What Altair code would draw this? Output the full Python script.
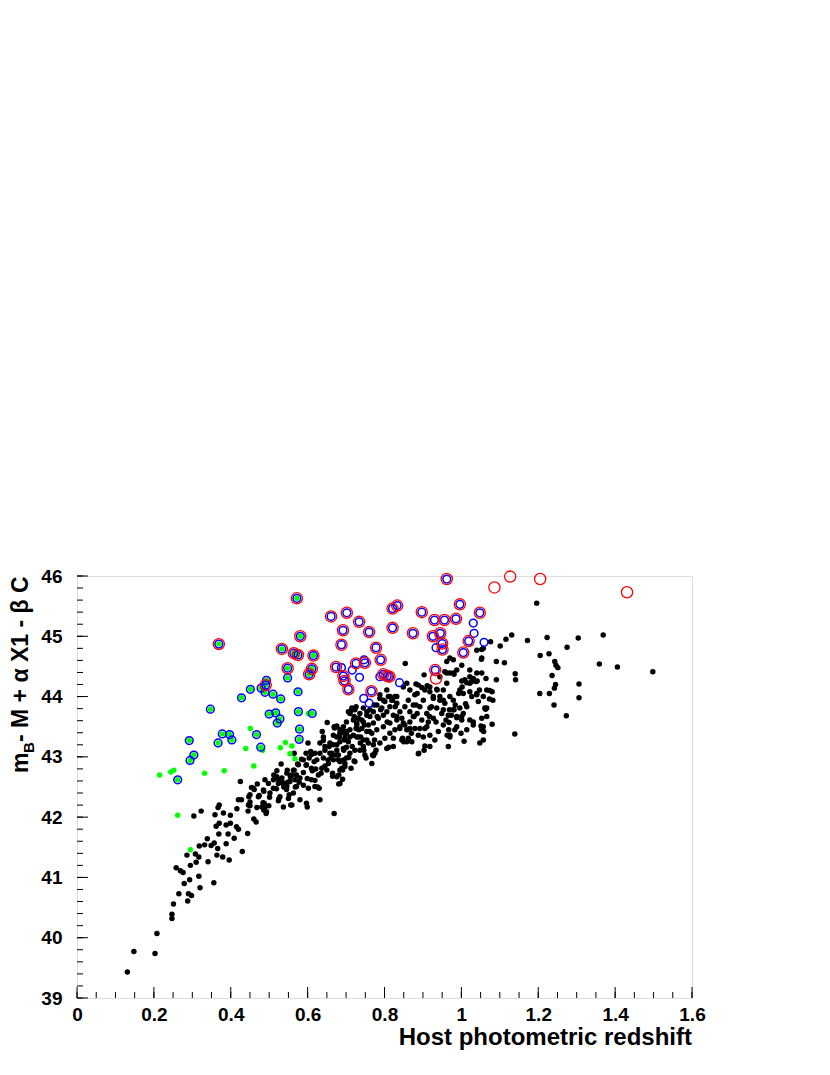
import altair as alt
import pandas as pd
import numpy as np

# ---------------- data ----------------
black = [
(0.131,39.43),(0.148,39.77),(0.203,39.74),(0.208,40.07),(0.247,40.32),(0.247,40.39),(0.251,40.56),
(0.265,40.73),(0.288,40.61),(0.298,40.70),(0.290,40.73),(0.279,40.90),(0.293,40.96),(0.320,40.83),
(0.317,41.02),(0.356,40.91),(0.258,41.16),(0.269,41.11),(0.276,41.08),(0.295,41.20),(0.310,41.25),
(0.317,41.34),(0.308,41.39),(0.286,41.37),(0.341,41.26),(0.318,41.52),(0.332,41.54),(0.349,41.53),
(0.357,41.57),(0.366,41.48),(0.339,41.64),(0.364,41.37),(0.379,41.34),(0.396,41.29),(0.388,41.56),
(0.409,41.65),(0.430,41.43),(0.369,41.72),(0.393,41.72),(0.362,41.85),(0.370,41.90),(0.388,41.87),
(0.399,41.90),(0.415,41.84),(0.420,41.80),(0.444,41.73),(0.304,42.02),(0.323,42.10),(0.359,42.04),
(0.381,42.07),(0.399,42.03),(0.367,42.16),(0.370,42.20),(0.416,42.14),(0.420,42.29),(0.445,42.10),
(0.450,42.19),(0.460,41.97),(0.466,41.92),(0.468,42.16),(0.486,42.12),(0.492,42.06),(0.484,42.24),
(0.499,42.19),(0.487,42.23),(0.524,42.27),
(0.425,42.59),(0.454,42.49),(0.469,42.55),(0.461,42.46),(0.447,42.34),(0.450,42.25),(0.474,42.36),
(0.486,42.43),(0.498,42.56),(0.501,42.33),(0.481,42.17),(0.493,42.09),(0.512,42.70),(0.520,42.77),
(0.531,42.88),(0.525,42.62),(0.519,42.47),(0.525,42.30),(0.533,42.59),(0.538,42.50),(0.548,42.58),
(0.545,42.46),(0.552,42.37),(0.556,42.20),(0.547,42.78),(0.555,42.67),(0.565,42.78),(0.571,42.70),
(0.578,42.58),(0.568,42.50),(0.565,43.06),(0.574,42.88),(0.584,42.96),(0.589,42.74),(0.596,42.86),
(0.599,42.64),(0.599,42.17),(0.596,43.06),(0.601,43.23),(0.610,43.04),(0.617,42.92),(0.612,42.77),
(0.619,42.61),(0.626,42.50),(0.630,42.48),(0.621,42.80),(0.635,42.73),(0.651,43.57),(0.638,43.42),
(0.641,43.27),(0.645,43.17),(0.653,42.95),(0.663,43.04),(0.665,42.68),(0.645,42.85),(0.656,43.17),
(0.669,42.06),(0.661,42.98),(0.674,43.03),(0.680,42.95),(0.689,42.81),(0.691,42.63),(0.697,42.89),
(0.694,43.11),(0.701,43.16),(0.713,42.81),(0.707,42.99),(0.721,42.93),(0.716,43.17),(0.683,43.33),
(0.695,43.39),(0.706,43.25),(0.726,43.47),(0.728,43.33),(0.737,43.23),(0.746,43.11),(0.752,42.98),
(0.767,42.89),(0.778,43.11),(0.774,43.28),
(0.854,44.55),(0.903,44.36),(0.670,43.48),(0.658,43.06),(0.665,42.73),(0.681,42.70),(0.681,42.55),
(0.696,43.28),(0.710,43.06),(0.693,42.95),(0.717,43.78),(0.721,43.67),(0.728,43.56),(0.733,43.45),
(0.738,43.33),(0.745,43.17),(0.769,43.03),(0.754,43.28),(0.761,43.42),(0.748,43.53),(0.773,43.86),
(0.781,43.67),(0.790,43.78),(0.797,43.50),(0.807,43.58),(0.814,43.39),(0.823,43.17),(0.811,43.16),
(0.819,43.94),(0.828,43.83),(0.832,43.67),(0.840,43.50),(0.847,43.31),(0.849,43.56),(0.858,43.25),
(0.866,43.47),(0.875,43.67),(0.882,43.86),(0.889,43.06),(0.905,43.18),(0.901,43.33),(0.892,43.47),
(0.910,43.50),(0.917,43.67),(0.922,43.83),(0.927,44.00),(0.937,44.11),(0.944,43.94),(0.953,43.78),
(0.960,43.61),(0.967,43.45),(0.970,43.33),(0.974,43.69),(0.984,43.86),(0.993,44.05),(1.002,44.16),
(1.009,44.28),(1.022,44.22),(1.038,44.25),(1.047,44.11),(1.057,44.00),(1.066,43.81),(1.007,43.26),
(1.048,43.23),(1.057,43.50),(1.031,43.58),(1.005,43.72),(0.988,43.50),(0.999,43.39),(0.866,44.11),
(0.879,44.03),(0.849,44.16),(0.832,44.00),(0.888,44.19),(0.905,44.11),(0.918,44.16),(0.944,44.33),
(0.957,44.41),(0.970,44.39),(0.988,44.44),(1.001,44.52),(1.022,44.33),(1.040,44.39),(1.053,44.64),
(1.057,44.80),(0.962,44.58),(0.979,44.61),(1.040,44.77),(0.806,44.11),(0.814,44.00),(0.797,43.94),
(0.788,44.03),(0.762,43.78),(0.754,43.69),(0.741,43.61),(0.726,43.83),(0.710,43.75),(0.701,43.58),
(0.684,43.45),(0.676,43.33),(0.701,43.39),
(1.076,44.91),(1.101,44.84),(1.116,44.95),(1.131,45.02),(1.172,44.93),(1.223,44.98),(1.304,44.97),
(1.275,44.82),(1.205,44.68),(1.228,44.71),(1.243,44.58),(1.246,44.52),(1.251,44.48),(1.359,44.54),
(1.091,44.58),(1.112,44.56),(1.052,44.62),(1.140,44.38),(1.141,44.28),(1.236,44.35),(1.204,44.05),
(1.229,44.05),(1.245,44.20),(1.242,44.14),(1.241,43.86),(1.273,43.68),(1.306,44.21),(1.306,43.98),
(1.139,43.38),(1.091,44.28),(1.080,44.08),(1.082,43.94),(1.063,43.79),(1.074,44.10),(1.051,43.51),
(1.058,43.42),(1.080,43.54),(1.053,44.78),(1.053,44.39),(1.064,44.30),(1.041,44.26),(1.027,44.25),
(1.014,44.23),(1.027,44.00),(1.040,44.03),(1.011,43.88),(1.001,43.67),(0.988,43.65),(0.968,43.57),
(0.963,43.36),(0.979,43.78),(0.969,43.78),(1.022,44.44),(0.970,44.64),(0.979,44.39),(0.962,44.22),
(0.996,44.11),(0.953,44.11),(0.953,43.94),(0.979,43.94),(1.073,43.96),
(1.369,45.02),(1.406,44.49),(1.498,44.41),(1.196,45.55),(0.888,43.05),(0.850,43.25),(0.871,43.25),
(0.771,43.02),(0.723,42.92),(0.691,42.78),(0.684,42.56),(0.669,43.50),
# dense core, second reading
(0.882,44.21),(0.897,44.15),(0.911,44.18),(0.918,44.08),(0.936,44.12),(0.962,44.39),(0.981,44.37),
(1.001,44.26),(1.031,44.30),(0.858,44.22),(0.885,44.05),(0.901,43.94),(0.927,43.97),(0.944,44.00),
(0.957,43.89),(0.970,44.00),(1.005,44.05),(1.022,44.08),(1.040,44.05),(1.066,44.11),(1.044,43.92),
(1.061,43.81),(1.053,43.64),(1.014,43.83),(0.996,43.81),(0.981,43.78),(0.988,43.67),(0.966,43.69),
(0.949,43.72),(0.936,43.81),(0.918,43.81),(0.910,43.72),(0.927,43.64),(0.934,43.58),(0.914,43.58),
(0.905,43.47),(0.897,43.61),(0.885,43.72),(0.892,43.83),(0.875,43.86),(0.866,43.75),(0.877,43.67),
(0.866,43.58),(0.879,43.47),(0.888,43.36),(0.870,43.39),(0.858,43.45),(0.853,43.53),(0.845,43.64),
(0.840,43.75),(0.853,43.83),(0.832,43.89),(0.821,43.94),(0.810,44.00),(0.827,44.00),(0.801,43.92),
(0.814,43.83),(0.806,43.75),(0.823,43.69),(0.832,43.61),(0.814,43.56),(0.840,43.47),(0.827,43.45),
(0.823,43.31),(0.845,43.28),(0.862,43.31),(0.788,43.97),(0.780,43.86),(0.793,43.81),(0.797,43.69),
(0.784,43.64),(0.771,43.75),(0.762,43.67),(0.754,43.75),(0.745,43.81),(0.736,43.72),(0.732,43.64),
(0.745,43.58),(0.758,43.53),(0.771,43.56),(0.780,43.45),(0.767,43.39),(0.754,43.42),(0.741,43.47),
(0.728,43.53),(0.719,43.61),(0.710,43.72),(0.723,43.78),(0.715,43.81),(0.710,43.45),(0.719,43.36),
(0.732,43.33),(0.745,43.28),(0.758,43.23),(0.771,43.20),(0.788,43.23),(0.801,43.31),(0.806,43.14),
(0.775,43.06),(0.693,43.42),(0.697,43.31),(0.684,43.25),(0.676,43.11),(0.667,43.20),(0.723,43.11),
(0.736,43.11),(0.749,43.03),(0.862,43.94),(0.953,43.53),(0.970,43.36),(0.983,43.45),(1.001,43.61),
(1.022,43.61),(1.031,43.53),(1.014,43.45),(1.053,43.45),(1.066,43.67),(0.940,43.42),(0.918,43.36),
(0.931,43.28),(0.918,43.17),(0.903,43.11),(0.966,43.17),(1.057,43.28),
(0.676,43.51),(0.693,43.50),(0.684,43.39),(0.667,43.36),(0.658,43.23),(0.676,43.20),(0.693,43.14),
(0.641,43.33),(0.632,43.23),(0.645,43.11),(0.663,43.06),(0.680,43.03),(0.632,43.06),(0.619,43.06),
(0.608,43.09),(0.624,42.95),(0.641,42.98),(0.654,42.89),(0.667,42.95),(0.684,42.92),(0.701,42.98),
(0.697,42.84),(0.684,42.78),(0.650,42.78),(0.637,42.81),(0.628,42.70),(0.610,42.81),(0.597,42.87),
(0.589,42.95),(0.576,42.87),(0.563,42.78),(0.558,42.70),(0.546,42.73),(0.533,42.65),(0.537,42.56),
(0.524,42.56),(0.511,42.48),(0.546,42.51),(0.554,42.59),(0.567,42.62),(0.580,42.65),(0.571,42.51),
(0.589,42.53),(0.602,42.48),(0.610,42.62),(0.619,42.51),(0.563,42.40),(0.550,42.31),(0.528,42.34),
(0.502,42.40),(0.485,42.45),(0.472,42.34),(0.459,42.48),(0.450,42.37),(0.489,42.62),(0.520,42.67),
(0.511,42.62),(0.597,42.23),(0.580,42.29),(0.559,42.20),(0.537,42.17),(0.489,42.17),(0.446,42.20),
(0.428,42.29),(0.632,42.29),(0.676,42.67),(0.701,43.42),(0.710,43.33),(0.706,43.75),(0.604,42.98),
]
black_z = [p[0] for p in black]
black_mu = [p[1] for p in black]

green = [
(0.572,45.63),(0.369,44.87),(0.581,45.00),(0.533,44.79),(0.564,44.72),(0.575,44.69),(0.615,44.68),
(0.548,44.47),(0.611,44.46),(0.604,44.37),(0.491,44.19),
(0.548,44.31),(0.493,44.27),(0.479,44.14),(0.489,44.07),(0.510,44.04),(0.451,44.12),(0.428,43.98),
(0.530,43.96),(0.575,44.08),(0.347,43.79),(0.500,43.71),(0.517,43.73),(0.528,43.63),(0.521,43.56),
(0.576,43.75),(0.612,43.72),(0.579,43.46),(0.578,43.29),(0.467,43.37),(0.478,43.16),(0.378,43.38),
(0.397,43.37),(0.403,43.28),(0.367,43.23),(0.292,43.27),(0.304,43.03),(0.294,42.94),(0.262,42.62),
(0.451,43.47),(0.439,43.14),(0.483,43.11),(0.542,43.24),(0.559,43.18),(0.529,43.15),(0.554,43.05),
(0.567,42.97),(0.460,42.85),(0.383,42.77),(0.332,42.73),(0.244,42.75),(0.252,42.78),(0.215,42.70),
(0.262,42.03),(0.295,41.46),(0.602,43.72),
]
green_z = [p[0] for p in green]
green_mu = [p[1] for p in green]

red_blue = [
(0.962,45.95),(0.996,45.53),(1.048,45.39),(1.019,44.92),(1.005,44.73),(0.986,45.29),(0.956,45.27),
(0.930,45.27),(0.945,45.05),(0.926,45.00),(0.950,44.88),(0.951,44.78),(0.932,44.44),(0.897,45.40),
(0.874,45.05),(0.821,45.46),(0.833,45.51),(0.821,45.14),(0.778,44.81),(0.790,44.61),(0.797,44.37),
(0.807,44.34),(0.813,44.33),(0.766,44.09),(0.760,45.07),(0.734,45.24),(0.702,45.39),(0.692,45.10),
(0.688,44.86),(0.661,45.33),(0.726,44.55),(0.749,44.56),(0.674,44.49),(0.693,44.34),(0.696,44.26),
(0.706,44.12),
]
red_only = [(1.086,45.81),(1.127,45.99),(1.205,45.95),(1.431,45.73),(0.934,44.30)]
blue_only = [
(0.934,44.81),(0.788,44.33),(0.839,44.23),(0.746,43.97),(0.760,43.89),(0.747,44.61),(0.716,44.44),
(0.735,44.32),(1.031,45.22),(1.033,45.05),(1.059,44.90),(0.688,44.48),
]
# blue rings: around the first 39 green points, the red+blue pairs, and blue-only
blue = green[:39] + red_blue + blue_only
blue_z = [p[0] for p in blue]
blue_mu = [p[1] for p in blue]
# red rings
red = green[:11] + red_blue + red_only
red_z = [p[0] for p in red]
red_mu = [p[1] for p in red]

x_major = [0, 0.2, 0.4, 0.6, 0.8, 1.0, 1.2, 1.4, 1.6]
y_major = [39, 40, 41, 42, 43, 44, 45, 46]
x_minor = [round(v, 2) for v in np.arange(0, 1.6001, 0.05)]
y_minor = [round(v, 2) for v in np.arange(39, 46.001, 0.2)]

FONT = "Liberation Sans"
W, H = 615, 422

xs = alt.Scale(domain=[0, 1.6], nice=False, zero=False)
ys = alt.Scale(domain=[39, 46], nice=False, zero=False)

def pts(z, mu):
    return pd.DataFrame({"z": z, "mu": mu})

X_AX = alt.Axis(values=x_major, format="~g", labelFont=FONT, labelFontSize=19,
                labelFontWeight="bold", labelColor="black", ticks=False, tickSize=0,
                domain=False, grid=False, labelPadding=7, title=None, labelBaseline="top",
                labelFlush=False, labelOverlap=False)
Y_AX = alt.Axis(values=y_major, format="d", labelFont=FONT, labelFontSize=19,
                labelFontWeight="bold", labelColor="black", ticks=False, tickSize=0,
                domain=False, grid=False, labelPadding=15, title=None,
                labelFlush=False, labelOverlap=False)

base_black = alt.Chart(pts(black_z, black_mu)).mark_circle(
    size=30, color="black", opacity=1).encode(
    x=alt.X("z:Q", scale=xs, axis=X_AX),
    y=alt.Y("mu:Q", scale=ys, axis=Y_AX))

green_l = alt.Chart(pts(green_z, green_mu)).mark_circle(
    size=30, color="#00ff00", opacity=1).encode(
    x=alt.X("z:Q", scale=xs), y=alt.Y("mu:Q", scale=ys))

blue_l = alt.Chart(pts(blue_z, blue_mu)).mark_point(
    shape="circle", size=60, stroke="#0000ff", strokeWidth=1.5, filled=False, opacity=1).encode(
    x=alt.X("z:Q", scale=xs), y=alt.Y("mu:Q", scale=ys))

red_l = alt.Chart(pts(red_z, red_mu)).mark_point(
    shape="circle", size=125, stroke="#ff0000", strokeWidth=1.3, filled=False, opacity=1).encode(
    x=alt.X("z:Q", scale=xs), y=alt.Y("mu:Q", scale=ys))

# inward ticks (ROOT style)
xt_major = alt.Chart(pd.DataFrame({"v": x_major})).mark_rule(color="black", strokeWidth=1).encode(
    x=alt.X("v:Q", scale=xs), y=alt.value(H), y2=alt.value(H - 11))
xt_minor = alt.Chart(pd.DataFrame({"v": x_minor})).mark_rule(color="black", strokeWidth=1).encode(
    x=alt.X("v:Q", scale=xs), y=alt.value(H), y2=alt.value(H - 6))
yt_major = alt.Chart(pd.DataFrame({"v": y_major})).mark_rule(color="black", strokeWidth=1).encode(
    y=alt.Y("v:Q", scale=ys), x=alt.value(0), x2=alt.value(11))
yt_minor = alt.Chart(pd.DataFrame({"v": y_minor})).mark_rule(color="black", strokeWidth=1).encode(
    y=alt.Y("v:Q", scale=ys), x=alt.value(0), x2=alt.value(6))

def label(txt, x, y, size, angle=0, align="left", baseline="alphabetic"):
    return alt.Chart(pd.DataFrame({"t": [txt]})).mark_text(
        font=FONT, fontSize=size, fontWeight="bold", color="black",
        angle=angle, align=align, baseline=baseline).encode(
        text="t:N", x=alt.value(x), y=alt.value(y))

xtitle = label("Host photometric redshift", W, 469, 24, align="right")
yt1 = label("m", -49, 197, 23, angle=270)
yt2 = label("B", -43, 177, 15, angle=270)
yt3 = label(" - M + α X1 - β C", -49, 166, 23, angle=270)

chart = alt.layer(
    base_black, green_l, blue_l, red_l,
    xt_major, xt_minor, yt_major, yt_minor,
    xtitle, yt1, yt2, yt3,
).properties(
    width=W, height=H,
    autosize=alt.AutoSizeParams(type="none"),
    padding={"left": 69, "top": 568, "right": 130, "bottom": 69},
).configure_view(
    stroke="black", strokeWidth=1.3
).configure(background="white")

chart.save("out.html", embed_options={"renderer": "svg", "actions": False})
